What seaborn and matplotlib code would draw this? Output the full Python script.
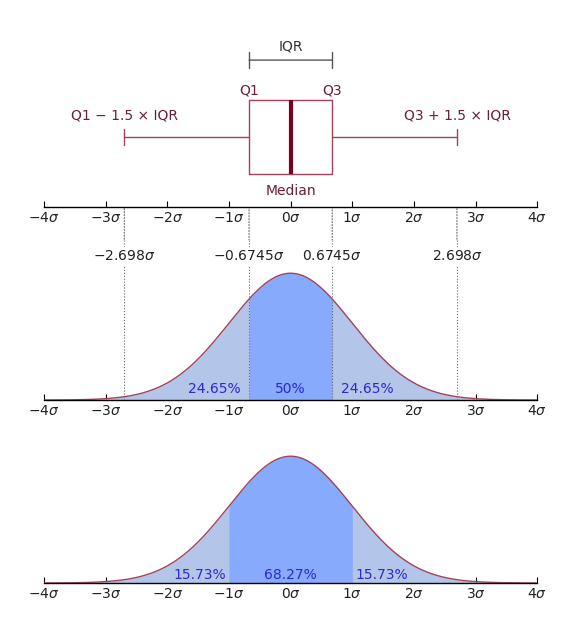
import numpy as np
import seaborn as sns
import matplotlib.pyplot as plt
from matplotlib.patches import ConnectionPatch

sns.set_theme(style="white")
plt.rcParams['font.family'] = ['DejaVu Sans']

# values
sigma_ticks = [-4, -3, -2, -1, 0, 1, 2, 3, 4]
q1, med, q3 = -0.6745, 0.0, 0.6745
whis_lo, whis_hi = -2.698, 2.698
mid_pcts = ['24.65%', '50%', '24.65%']
low_pcts = ['15.73%', '68.27%', '15.73%']
low_edges = [-1.0, 1.0]
mu, sd = 0.0, 1.0

maroon_text = '#6b1d3a'
line_col = '#a3425a'
light_fill = '#b3c5e8'
dark_fill = '#88aafc'
pct_col = '#2a2ad2'

x = np.linspace(-4, 4, 801)
pdf = np.exp(-0.5 * ((x - mu) / sd) ** 2) / (sd * np.sqrt(2 * np.pi))

fig = plt.figure(figsize=(5.83, 6.32), dpi=100)
ax1 = fig.add_axes([0.0755, 0.6725, 0.846, 0.28])
ax2 = fig.add_axes([0.0755, 0.367, 0.846, 0.253])
ax3 = fig.add_axes([0.0755, 0.0775, 0.846, 0.253])


def style_axis(ax):
    ax.set_xlim(-4, 4)
    for s in ['top', 'left', 'right']:
        ax.spines[s].set_visible(False)
    ax.spines['bottom'].set_color('black')
    ax.spines['bottom'].set_linewidth(1)
    ax.set_yticks([])
    ax.set_xticks(sigma_ticks)
    ax.set_xticklabels([f'${t}\\sigma$' for t in sigma_ticks])
    ax.tick_params(axis='x', direction='in', length=4, width=0.8,
                   colors='black', labelcolor='#222222', labelsize=10, pad=3,
                   bottom=True)


# box plot
stats = [dict(med=med, q1=q1, q3=q3, whislo=whis_lo, whishi=whis_hi, fliers=[])]
ax1.bxp(stats, positions=[1.0], widths=1.07, orientation='horizontal',
        capwidths=0.24, showfliers=False,
        boxprops=dict(color=line_col, lw=1),
        whiskerprops=dict(color=line_col, lw=1),
        capprops=dict(color=line_col, lw=1),
        medianprops=dict(color='#7a0022', lw=3))
ax1.set_ylim(0, 2.53)
style_axis(ax1)
ax1.annotate('', xy=(q1, 2.1), xytext=(q3, 2.1),
             arrowprops=dict(arrowstyle='|-|', color='#555555', lw=1,
                             mutation_scale=6, shrinkA=0, shrinkB=0))
ax1.text(med, 2.2, 'IQR', ha='center', va='bottom', color='#333333', fontsize=10)
ax1.text(q1, 1.67, 'Q1', ha='center', va='center', color=maroon_text, fontsize=10)
ax1.text(q3, 1.67, 'Q3', ha='center', va='center', color=maroon_text, fontsize=10)
ax1.text(whis_lo, 1.31, 'Q1 − 1.5 × IQR', ha='center', va='center', color=maroon_text, fontsize=10)
ax1.text(whis_hi, 1.31, 'Q3 + 1.5 × IQR', ha='center', va='center', color=maroon_text, fontsize=10)
ax1.text(med, 0.23, 'Median', ha='center', va='center', color=maroon_text, fontsize=10)

# middle density
sns.lineplot(x=x, y=pdf, ax=ax2, color=line_col, lw=1)
ax2.fill_between(x, pdf, color=light_fill, lw=0)
ax2.fill_between(x, pdf, where=(x >= q1) & (x <= q3), color=dark_fill, lw=0)
ax2.set_ylim(0, 0.503)
style_axis(ax2)
for xv in [whis_lo, q1, q3, whis_hi]:
    ax2.text(xv, 0.453, f'${xv:g}\\sigma$', ha='center', va='center', fontsize=10,
             color='#222222', bbox=dict(facecolor='white', edgecolor='none', pad=1.5), zorder=5)
ax2.vlines([whis_lo, q1, q3, whis_hi], 0, 0.503, linestyles=':', colors='#666666',
           lw=0.8, zorder=3)
ax2.annotate(mid_pcts[0], xy=(q1, 0), xytext=(-6, 3), textcoords='offset points',
             ha='right', va='bottom', color=pct_col, fontsize=10)
ax2.annotate(mid_pcts[1], xy=(med, 0), xytext=(0, 3), textcoords='offset points',
             ha='center', va='bottom', color=pct_col, fontsize=10)
ax2.annotate(mid_pcts[2], xy=(q3, 0), xytext=(6, 3), textcoords='offset points',
             ha='left', va='bottom', color=pct_col, fontsize=10)

# bottom density
sns.lineplot(x=x, y=pdf, ax=ax3, color=line_col, lw=1)
ax3.fill_between(x, pdf, color=light_fill, lw=0)
ax3.fill_between(x, pdf, where=(x >= low_edges[0]) & (x <= low_edges[1]), color=dark_fill, lw=0)
ax3.set_ylim(0, 0.503)
style_axis(ax3)
ax3.annotate(low_pcts[0], xy=(low_edges[0], 0), xytext=(-2, 1), textcoords='offset points',
             ha='right', va='bottom', color=pct_col, fontsize=10)
ax3.annotate(low_pcts[1], xy=(med, 0), xytext=(0, 1), textcoords='offset points',
             ha='center', va='bottom', color=pct_col, fontsize=10)
ax3.annotate(low_pcts[2], xy=(low_edges[1], 0), xytext=(2, 1), textcoords='offset points',
             ha='left', va='bottom', color=pct_col, fontsize=10)

# dotted connectors from box plot down to the middle axis
box_bottom = 1.0 - 1.07 / 2
for xv, y0 in [(whis_lo, 0.86), (q1, box_bottom), (q3, box_bottom), (whis_hi, 0.86)]:
    con = ConnectionPatch(xyA=(xv, y0), coordsA=ax1.transData,
                          xyB=(xv, 0.503), coordsB=ax2.transData,
                          linestyle=':', color='#666666', lw=0.8, zorder=0)
    fig.add_artist(con)

fig.savefig('out.png', dpi=100)
